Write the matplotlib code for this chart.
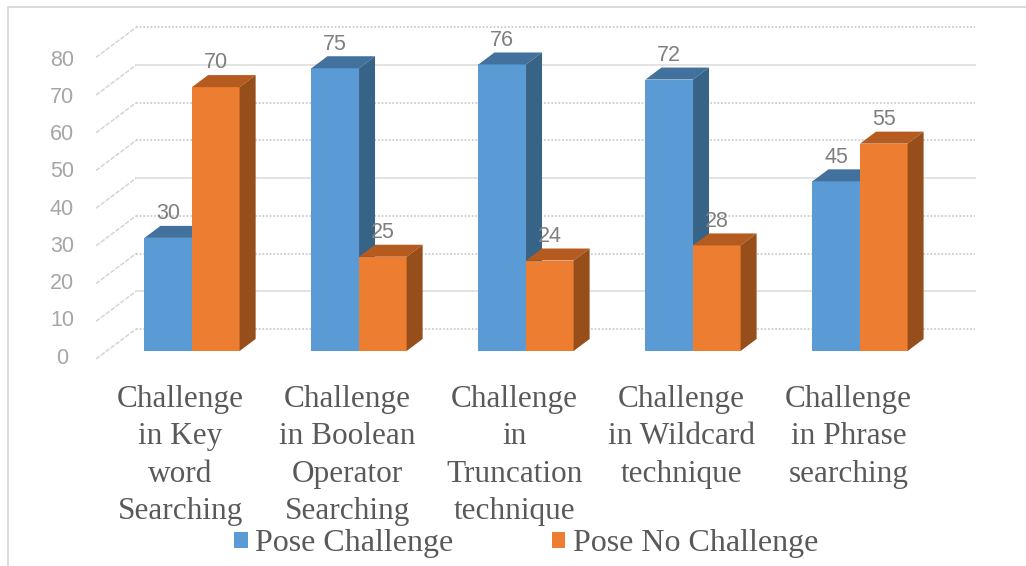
import matplotlib
matplotlib.use('Agg')
import matplotlib.pyplot as plt
from matplotlib.patches import Polygon, Patch

# Datos
categorias = ['Challenge\nin Key\nword\nSearching',
              'Challenge\nin Boolean\nOperator\nSearching',
              'Challenge\nin\nTruncation\ntechnique',
              'Challenge\nin Wildcard\ntechnique',
              'Challenge\nin Phrase\nsearching']
pose_challenge = [30, 75, 76, 72, 45]
pose_no_challenge = [70, 25, 24, 28, 55]
ticks = [0, 10, 20, 30, 40, 50, 60, 70, 80]
ticks_solidos = [10, 40, 70]

azul = ['#5b9bd5', '#41719c', '#376387']
naranja = ['#ed7d31', '#b55b1f', '#964e1b']
ancho = 0.285

fig = plt.figure(figsize=(10.26, 5.66), dpi=100)
ax = fig.add_axes([0, 0, 1, 1])
ax.set_xlim(-1.15, 4.994)
ax.set_ylim(-57.03, 93.1)
ax.axis('off')

# Profundidad 3D como desplazamiento en unidades de datos
px_x = 6.144/1026
px_y = 150.13/566
bar_dx, bar_dy = 16*px_x, 12*px_y
muro_x0 = -56*px_x
muro_x1 = 783*px_x
pared_y = 22*px_y


def barra(x0, x1, v, cols, z):
    ax.add_patch(Polygon([(x0, 0), (x1, 0), (x1, v), (x0, v)], fc=cols[0], ec='none', zorder=z))
    ax.add_patch(Polygon([(x0, v), (x1, v), (x1+bar_dx, v+bar_dy), (x0+bar_dx, v+bar_dy)],
                         fc=cols[1], ec='none', zorder=z))
    ax.add_patch(Polygon([(x1, 0), (x1+bar_dx, bar_dy), (x1+bar_dx, v+bar_dy), (x1, v)],
                         fc=cols[2], ec='none', zorder=z))


# Rejilla: pared del fondo y diagonal del piso
for t in ticks:
    ls = '-' if t in ticks_solidos else (0, (1, 1))
    col = '#e0e0e0' if t in ticks_solidos else '#cdcdcd'
    y_fondo = t + pared_y
    ax.plot([muro_x0, muro_x1], [y_fondo, y_fondo], color=col, lw=1.3, ls=ls, zorder=1)
    ax.plot([muro_x0-40*px_x, muro_x0], [y_fondo-30*px_y, y_fondo], color='#d4d4d4', lw=1.1,
            ls=(0, (3, 1)), zorder=1)
    ax.text(-1.15+62*px_x, 0.988*t-1.9, str(t), ha='center', va='center', color='#a6a6a6',
            fontsize=15.5, family='Liberation Sans')

# Barras
for i in range(len(categorias)):
    barra(i-ancho, i, pose_challenge[i], azul, 2+i*2)
    barra(i, i+ancho, pose_no_challenge[i], naranja, 3+i*2)
    ax.text(i-ancho/2, pose_challenge[i]+6.4, str(pose_challenge[i]), ha='center', va='center',
            color='#7f7f7f', fontsize=15.5, family='Liberation Sans', zorder=30)
    ax.text(i+ancho/2, pose_no_challenge[i]+6.4, str(pose_no_challenge[i]), ha='center', va='center',
            color='#7f7f7f', fontsize=15.5, family='Liberation Sans', zorder=30)
    ax.text(i-0.07, -9.0, categorias[i], ha='center', va='top', color='#595959', fontsize=22.5,
            family='Liberation Serif', linespacing=1.385)

# Marco exterior
ax.plot([-1.15+8*px_x, -1.15+8*px_x, 4.994], [-57.03, 93.1-7*px_y, 93.1-7*px_y],
        color='#d9d9d9', lw=1.3)

handles = [Patch(fc=azul[0], label='Pose Challenge'), Patch(fc=naranja[0], label='Pose No Challenge')]
ax.legend(handles=handles, loc='center', bbox_to_anchor=(0.513, 0.039), ncol=2, frameon=False,
          prop={'family': 'Liberation Serif', 'size': 23}, labelcolor='#595959', handlelength=0.42,
          handleheight=0.42, handletextpad=0.25, columnspacing=3.07, borderpad=0)

fig.savefig('out.png', dpi=100)
